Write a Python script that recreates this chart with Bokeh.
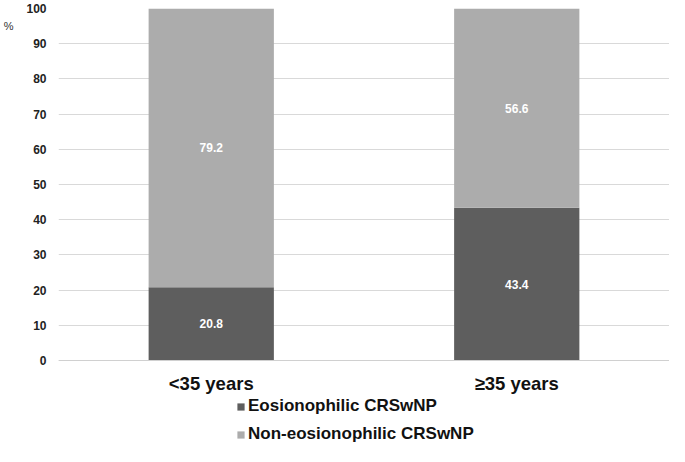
from bokeh.plotting import figure
from bokeh.models import (ColumnDataSource, Legend, LegendItem, FactorRange, FixedTicker,
                          LinearAxis)
from bokeh.core.properties import value
from bokeh.embed import file_html
from bokeh.resources import INLINE

groups = ["<35 years", "≥35 years"]
eos = [20.8, 43.4]
non_eos = [79.2, 56.6]
series = ["Eosionophilic CRSwNP", "Non-eosionophilic CRSwNP"]
colors = ["#5e5e5e", "#acacac"]
yticks = [0, 10, 20, 30, 40, 50, 60, 70, 80, 90, 100]
unit_label = "%"

FONT = "Liberation Sans"

src = ColumnDataSource(dict(
    g=groups,
    eos=eos,
    non=non_eos,
    eos_mid=[v / 2 for v in eos],
    non_mid=[e + n / 2 for e, n in zip(eos, non_eos)],
    eos_txt=[f"{v:.1f}" for v in eos],
    non_txt=[f"{v:.1f}" for v in non_eos],
))

# lower part of the y range leaves room (inside the frame) for category labels and legend
p = figure(x_range=FactorRange(*groups), y_range=(-24.4, 100), width=669, height=446,
           output_backend="svg", toolbar_location=None,
           min_border_left=56, min_border_right=0, min_border_top=8, min_border_bottom=0)

r = p.vbar_stack(["eos", "non"], x="g", width=0.41, source=src, color=colors, line_color=None)

for ycol, tcol in [("eos_mid", "eos_txt"), ("non_mid", "non_txt")]:
    p.text(x="g", y=ycol, text=tcol, source=src, text_align="center", text_baseline="middle",
           text_color="white", text_font=value(FONT), text_font_style="bold", text_font_size="12px")

p.outline_line_color = None
p.xgrid.grid_line_color = None
p.ygrid.grid_line_color = "#d9d9d9"
p.yaxis.ticker = FixedTicker(ticks=yticks)
p.yaxis.axis_line_color = None
p.yaxis.major_tick_line_color = None
p.yaxis.major_tick_out = 0
p.yaxis.minor_tick_line_color = None
p.yaxis.major_label_text_font = FONT
p.yaxis.major_label_text_font_style = "bold"
p.yaxis.major_label_text_font_size = "12px"
p.yaxis.major_label_text_color = "#222222"
p.yaxis.major_label_standoff = 12

# outer axis carrying only the "%" unit mark near the top
unit_axis = LinearAxis(ticker=FixedTicker(ticks=[95]), major_label_overrides={95: unit_label},
                       axis_line_color=None, major_tick_line_color=None, major_tick_out=0,
                       minor_tick_line_color=None, major_label_standoff=10,
                       major_label_text_font=FONT, major_label_text_font_size="11px",
                       major_label_text_color="#333333")
p.add_layout(unit_axis, "left")

p.xaxis.fixed_location = 0
p.xaxis.axis_line_color = "#d0d0d0"
p.xaxis.major_tick_line_color = None
p.xaxis.major_tick_out = 0
p.xaxis.major_label_text_font = FONT
p.xaxis.major_label_text_font_style = "bold"
p.xaxis.major_label_text_font_size = "18.5px"
p.xaxis.major_label_text_color = "#111111"
p.xaxis.major_label_standoff = 12

legend = Legend(items=[LegendItem(label=series[0], renderers=[r[0]]),
                       LegendItem(label=series[1], renderers=[r[1]])],
                orientation="vertical", location=(178, 2),
                label_text_font=FONT, label_text_font_style="bold", label_text_font_size="17px",
                label_text_color="#111111",
                border_line_color=None, background_fill_alpha=0,
                padding=0, margin=0, spacing=8, label_height=17,
                glyph_width=9, glyph_height=9, label_standoff=3)
p.add_layout(legend, "center")

open("out.html", "w").write(file_html(p, INLINE))
